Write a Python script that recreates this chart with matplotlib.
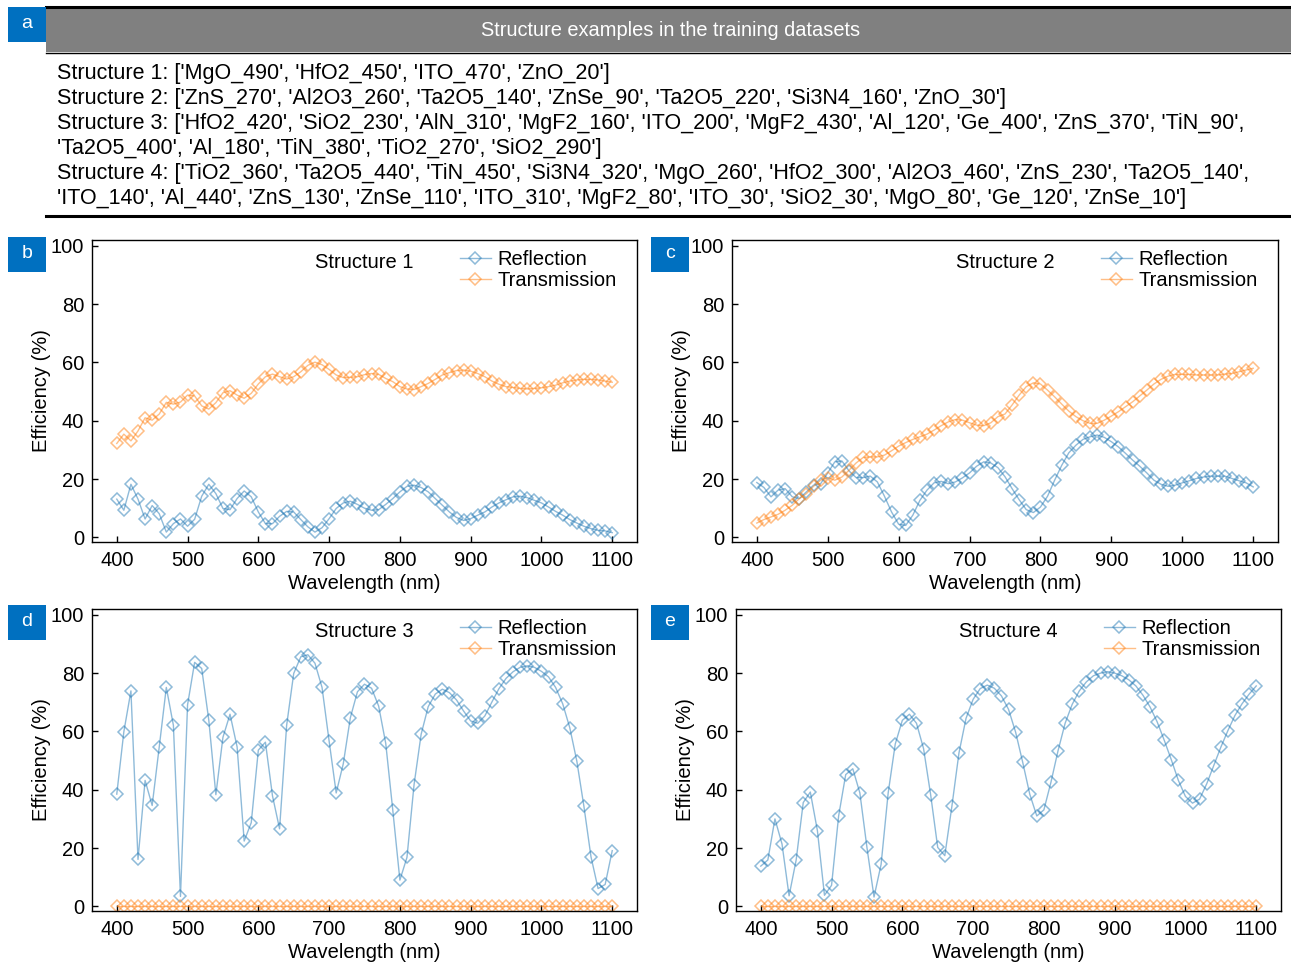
import matplotlib
matplotlib.use("Agg")
import matplotlib.pyplot as plt
from matplotlib.patches import Rectangle
from matplotlib.lines import Line2D

plt.rcParams['font.family'] = ['Liberation Sans', 'DejaVu Sans']

W, H = 1291, 964

wavelength = list(range(400, 1101, 10))

s1_reflection = [13.1, 9.3, 18.2, 13.1, 6.3, 10.9, 8.1, 1.8, 4.7, 6.3,
                 3.8, 6.2, 14.1, 18.2, 15.0, 9.9, 9.5, 13.3, 15.9, 13.9,
                 8.7, 4.7, 4.7, 7.2, 8.9, 8.7, 6.1, 3.6, 1.8, 3.3,
                 6.4, 9.9, 11.8, 12.4, 11.3, 10.0, 9.3, 9.5, 11.3, 13.3,
                 15.6, 17.5, 17.9, 17.1, 15.6, 13.3, 11.0, 8.7, 6.8, 5.8,
                 6.4, 7.6, 8.7, 10.4, 11.8, 12.9, 13.9, 14.1, 13.6, 12.7,
                 11.8, 10.4, 8.9, 7.6, 6.1, 4.9, 3.8, 3.0, 2.4, 2.2, 1.6]
s1_transmission = [32.2, 35.4, 33.1, 36.5, 41.0, 40.2, 42.3, 46.3, 45.7, 46.4,
                   48.8, 48.5, 45.1, 44.0, 46.2, 49.6, 50.3, 48.8, 47.7, 49.4,
                   52.6, 55.1, 56.0, 55.1, 54.3, 55.1, 56.8, 59.0, 60.1, 59.2,
                   57.6, 55.7, 54.8, 54.9, 55.1, 55.8, 56.2, 55.9, 54.5, 53.4,
                   51.7, 50.9, 50.7, 51.7, 52.8, 54.2, 55.7, 56.5, 57.2, 57.4,
                   57.0, 56.2, 55.1, 53.6, 52.5, 51.7, 51.4, 51.1, 50.9, 51.1,
                   51.3, 51.7, 52.2, 53.0, 53.6, 54.0, 54.2, 54.2, 54.0, 53.6, 53.2]

s2_reflection = [18.8, 17.1, 13.9, 16.2, 16.7, 13.9, 13.3, 15.6, 17.9, 18.4,
                 22.1, 25.9, 26.2, 22.8, 20.5, 20.5, 21.0, 19.0, 14.1, 8.7,
                 4.5, 4.1, 7.6, 12.7, 16.2, 18.7, 19.2, 18.4, 19.0, 20.4,
                 22.1, 24.4, 25.9, 25.5, 23.9, 20.8, 16.7, 12.9, 9.5, 8.5,
                 10.4, 14.1, 19.6, 24.7, 29.0, 31.6, 33.6, 34.5, 35.1, 34.3,
                 32.8, 31.0, 28.8, 26.5, 24.4, 22.1, 19.6, 18.2, 17.5, 17.9,
                 18.7, 19.4, 20.2, 20.7, 21.0, 21.0, 21.0, 20.2, 19.4, 18.7, 17.3]
s2_transmission = [4.9, 6.1, 7.0, 7.9, 9.3, 11.0, 13.3, 15.0, 17.5, 19.6,
                   20.5, 19.6, 20.7, 23.0, 25.5, 27.4, 27.6, 27.6, 28.2, 29.7,
                   31.3, 32.5, 33.6, 34.5, 35.4, 36.8, 38.3, 39.6, 40.4, 40.2,
                   39.3, 38.5, 38.3, 39.3, 41.4, 42.3, 45.4, 48.8, 51.7, 53.0,
                   52.6, 50.5, 48.2, 45.7, 43.3, 41.4, 40.0, 39.1, 39.1, 40.2,
                   41.6, 43.1, 44.8, 46.5, 48.5, 50.5, 52.6, 54.2, 55.3, 55.9,
                   55.9, 55.9, 55.7, 55.7, 55.7, 55.7, 56.0, 56.2, 56.8, 57.4, 58.0]

s3_reflection = [38.5, 59.9, 73.9, 16.1, 43.2, 34.6, 54.7, 75.1, 62.1, 3.4,
                 69.1, 83.7, 81.6, 63.9, 38.3, 58.0, 65.9, 54.7, 22.4, 28.7,
                 53.6, 56.3, 37.9, 26.6, 62.1, 79.9, 85.6, 86.3, 83.4, 75.1,
                 56.7, 38.9, 48.9, 64.7, 73.6, 76.2, 74.8, 68.7, 55.9, 32.9,
                 9.0, 16.8, 41.7, 59.0, 68.5, 72.8, 74.5, 73.3, 70.8, 67.0,
                 63.6, 62.8, 65.3, 70.1, 74.7, 78.2, 80.5, 82.0, 82.5, 82.0,
                 80.6, 78.7, 75.1, 69.5, 61.3, 49.8, 34.3, 17.0, 6.1, 7.5, 19.1]
s3_transmission = [0, 0, 0, 0, 0, 0, 0, 0, 0, 0,
                   0, 0, 0, 0, 0, 0, 0, 0, 0, 0,
                   0, 0, 0, 0, 0, 0, 0, 0, 0, 0,
                   0, 0, 0, 0, 0, 0, 0, 0, 0, 0,
                   0, 0, 0, 0, 0, 0, 0, 0, 0, 0,
                   0, 0, 0, 0, 0, 0, 0, 0, 0, 0,
                   0, 0, 0, 0, 0, 0, 0, 0, 0, 0, 0]

s4_reflection = [13.8, 15.9, 30.0, 21.4, 3.6, 15.9, 35.6, 39.2, 26.0, 3.8,
                 7.2, 31.0, 45.2, 47.2, 38.9, 20.2, 3.2, 14.4, 38.9, 55.7,
                 63.8, 65.9, 62.8, 54.1, 38.3, 20.2, 17.4, 34.3, 52.6, 64.5,
                 71.0, 74.7, 75.9, 74.8, 72.2, 67.6, 59.8, 49.5, 38.5, 31.0,
                 33.1, 42.6, 53.4, 62.8, 69.3, 73.9, 77.0, 79.1, 80.0, 80.5,
                 80.0, 79.1, 77.7, 75.6, 72.4, 68.4, 63.3, 57.0, 50.3, 43.2,
                 37.7, 35.4, 36.8, 42.0, 48.3, 54.6, 60.3, 65.5, 69.5, 72.8, 75.6]
s4_transmission = [0, 0, 0, 0, 0, 0, 0, 0, 0, 0,
                   0, 0, 0, 0, 0, 0, 0, 0, 0, 0,
                   0, 0, 0, 0, 0, 0, 0, 0, 0, 0,
                   0, 0, 0, 0, 0, 0, 0, 0, 0, 0,
                   0, 0, 0, 0, 0, 0, 0, 0, 0, 0,
                   0, 0, 0, 0, 0, 0, 0, 0, 0, 0,
                   0, 0, 0, 0, 0, 0, 0, 0, 0, 0, 0]

structure_lines = [
    "Structure 1: ['MgO_490', 'HfO2_450', 'ITO_470', 'ZnO_20']",
    "Structure 2: ['ZnS_270', 'Al2O3_260', 'Ta2O5_140', 'ZnSe_90', 'Ta2O5_220', 'Si3N4_160', 'ZnO_30']",
    "Structure 3: ['HfO2_420', 'SiO2_230', 'AlN_310', 'MgF2_160', 'ITO_200', 'MgF2_430', 'Al_120', 'Ge_400', 'ZnS_370', 'TiN_90',",
    "'Ta2O5_400', 'Al_180', 'TiN_380', 'TiO2_270', 'SiO2_290']",
    "Structure 4: ['TiO2_360', 'Ta2O5_440', 'TiN_450', 'Si3N4_320', 'MgO_260', 'HfO2_300', 'Al2O3_460', 'ZnS_230', 'Ta2O5_140',",
    "'ITO_140', 'Al_440', 'ZnS_130', 'ZnSe_110', 'ITO_310', 'MgF2_80', 'ITO_30', 'SiO2_30', 'MgO_80', 'Ge_120', 'ZnSe_10']",
]

header_title = "Structure examples in the training datasets"
panel_titles = ["Structure 1", "Structure 2", "Structure 3", "Structure 4"]
panel_letters = ["b", "c", "d", "e"]
series_names = ["Reflection", "Transmission"]

BLUE = '#1f77b4'
ORANGE = '#ff7f0e'
BADGE = '#0070c0'
FS = 14.5

fig = plt.figure(figsize=(W / 100, H / 100), dpi=100)


def fx(x):
    return x / W


def fy(y):
    return 1 - y / H


# ---- header (panel a) ----
fig.patches.append(Rectangle((fx(46), fy(52)), fx(1291 - 46), (52 - 8) / H,
                             transform=fig.transFigure, facecolor='#808080',
                             edgecolor='none', zorder=1))
fig.add_artist(Line2D([fx(46), fx(1291)], [fy(7), fy(7)], color='black', lw=2.2,
                      transform=fig.transFigure))
fig.add_artist(Line2D([fx(46), fx(1291)], [fy(52.5), fy(52.5)], color='black', lw=1.0,
                      transform=fig.transFigure))
fig.add_artist(Line2D([fx(46), fx(1291)], [fy(216), fy(216)], color='black', lw=2.2,
                      transform=fig.transFigure))
fig.text(fx(671), fy(30), header_title, color='white', fontsize=14.4, ha='center', va='center')
for k, line in enumerate(structure_lines):
    fig.text(fx(57), fy(73 + 25.2 * k), line, fontsize=15.5, ha='left', va='center')


def badge(x0, y0, letter):
    fig.patches.append(Rectangle((fx(x0), fy(y0 + 35)), 38 / W, 35 / H,
                                 transform=fig.transFigure, facecolor=BADGE,
                                 edgecolor='none', zorder=2))
    fig.text(fx(x0 + 19), fy(y0 + 16), letter, color='white', fontsize=14,
             ha='center', va='center', zorder=3)


badge(8, 7, "a")

# ---- panels ----
boxes = [(92, 240, 637, 542), (732, 240, 1278, 542),
         (92, 609, 637, 911), (736, 609, 1281, 911)]
badge_pos = [(8, 237), (651, 237), (8, 605), (651, 605)]
refl = [s1_reflection, s2_reflection, s3_reflection, s4_reflection]
trans = [s1_transmission, s2_transmission, s3_transmission, s4_transmission]

for p in range(4):
    x0, y0, x1, y1 = boxes[p]
    ax = fig.add_axes([fx(x0), fy(y1), (x1 - x0) / W, (y1 - y0) / H])
    ax.plot(wavelength, refl[p], color=BLUE, alpha=0.5, lw=1.0, marker='D',
            markersize=6.2, markerfacecolor='none', markeredgewidth=1.1,
            label=series_names[0])
    ax.plot(wavelength, trans[p], color=ORANGE, alpha=0.5, lw=1.0, marker='D',
            markersize=6.2, markerfacecolor='none', markeredgewidth=1.1,
            label=series_names[1])
    ax.set_xlim(365, 1135)
    ax.set_ylim(-1.6, 102)
    ax.set_xticks(range(400, 1101, 100))
    ax.set_yticks(range(0, 101, 20))
    ax.tick_params(direction='in', labelsize=FS, length=4, width=1,
                   top=False, right=False)
    ax.tick_params(axis='y', pad=5.5)
    ax.tick_params(axis='x', pad=6.5)
    ax.set_xlabel("Wavelength (nm)", fontsize=FS, labelpad=3)
    ax.set_ylabel("Efficiency (%)", fontsize=FS, labelpad=0)
    for s in ax.spines.values():
        s.set_linewidth(1.0)
    ax.text(0.5, 0.925, panel_titles[p], transform=ax.transAxes, fontsize=FS,
            ha='center', va='center')
    ax.legend(loc='upper right', frameon=False, fontsize=FS, handlelength=1.5,
              borderaxespad=0.6, labelspacing=0.12, handletextpad=0.35,
              bbox_to_anchor=(1.0, 1.035))
    badge(badge_pos[p][0], badge_pos[p][1], panel_letters[p])

fig.savefig("out.png", dpi=100)
